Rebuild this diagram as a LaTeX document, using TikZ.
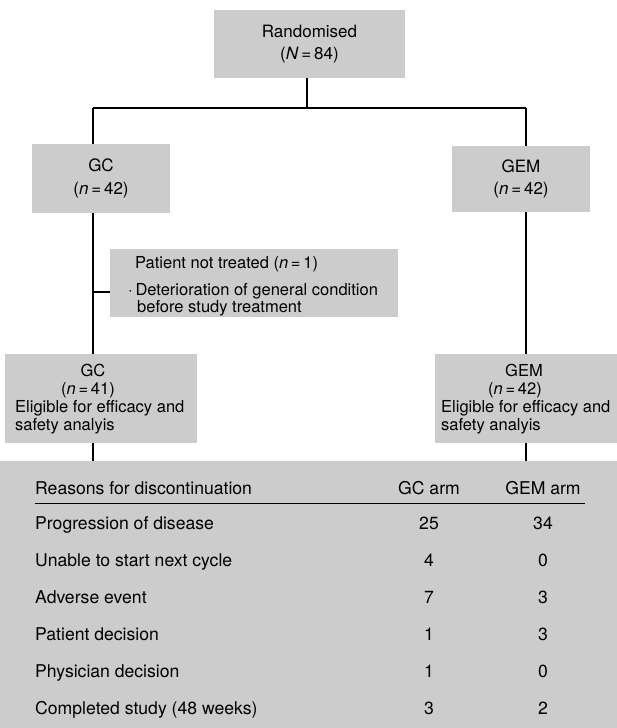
\documentclass[tikz,border=0pt]{standalone}
\usepackage{fontspec}
\setmainfont{TeX Gyre Heros}
\begin{document}
\begin{tikzpicture}[x=1pt,y=-1pt,
  boxfill/.style={rectangle, fill=black!20, draw=none, inner sep=0pt},
  boxtext/.style={font=\fontsize{17}{22.5}\selectfont, align=center},
  lbl/.style={font=\fontsize{16.5}{18}\selectfont, inner sep=0pt},
  tbl/.style={font=\fontsize{17.6}{21}\selectfont, inner sep=0pt},
  conn/.style={draw=black, line width=1.2pt}]
\useasboundingbox[fill=white] (0,0) rectangle (617,728);

% boxes
\node[boxfill, boxtext, minimum width=191pt, minimum height=68pt] (rand) at (309.5,44)
  {Randomised\\(\textit{N}\,=\,84)};
\node[boxfill, boxtext, minimum width=138pt, minimum height=69pt] (gc) at (101,178.5)
  {GC\\(\textit{n}\,=\,42)};
\node[boxfill, boxtext, minimum width=138pt, minimum height=66pt] (gem) at (521,179)
  {GEM\\(\textit{n}\,=\,42)};
\node[boxfill, minimum width=288pt, minimum height=68pt] (pnt) at (254,283) {};
\node[boxfill, minimum width=192pt, minimum height=89pt] (gca) at (101,398.5) {};
\node[boxfill, minimum width=182pt, minimum height=89pt] (gema) at (526,398.5) {};
\node[boxfill, minimum width=617pt, minimum height=267pt] (tab) at (308.5,594.5) {};

% patient not treated text
\node[lbl, anchor=base west] (p1) at (135,268) {Patient not treated (\textit{n}\,=\,1)};
\node[lbl, anchor=base west] (p2) at (128,295) {·\,Deterioration of general condition};
\node[lbl, anchor=base west] (p3) at (137,312) {before study treatment};

% GC analysed text
\node[lbl, anchor=base] (ga1) at (93,376) {GC};
\node[lbl, anchor=base] (ga2) at (88,394) {(\textit{n}\,=\,41)};
\node[lbl, anchor=base west] (ga3) at (15,412) {Eligible for efficacy and};
\node[lbl, anchor=base west] (ga4) at (15,430) {safety analyis};

% GEM analysed text
\node[lbl, anchor=base] (ea1) at (524,376) {GEM};
\node[lbl, anchor=base] (ea2) at (515,394) {(\textit{n}\,=\,42)};
\node[lbl, anchor=base west] (ea3) at (441,412) {Eligible for efficacy and};
\node[lbl, anchor=base west] (ea4) at (441,430) {safety analyis};

% connectors
\coordinate (jm) at (307,108);
\coordinate (jl) at (93,108);
\coordinate (jr) at (526,108);
\coordinate (br) at (93,292);
\draw[conn] (rand.south -| jm) -- (jm);
\draw[conn] (jl) -- (jr);
\draw[conn] (jl) -- (jl |- gc.north);
\draw[conn] (jr) -- (jr |- gem.north);
\draw[conn] (jl |- gc.south) -- (jl |- gca.north);
\draw[conn] (br) -- (br -| pnt.west);
\draw[conn] (jr |- gem.south) -- (jr |- gema.north);
\draw[conn] (jl |- gca.south) -- (jl |- tab.north);
\draw[conn] (jr |- gema.south) -- (jr |- tab.north);

% table
\node[tbl, anchor=base west] (h0) at (35,494) {Reasons for discontinuation};
\node[tbl, anchor=base] (h1) at (429,494) {GC arm};
\node[tbl, anchor=base] (h2) at (543,494) {GEM arm};
\draw[line width=1pt] (35,503) -- (585,503);

\node[tbl, anchor=base west] (r1) at (35,529) {Progression of disease};
\node[tbl, anchor=base west] (r2) at (35,566) {Unable to start next cycle};
\node[tbl, anchor=base west] (r3) at (35,603) {Adverse event};
\node[tbl, anchor=base west] (r4) at (35,640) {Patient decision};
\node[tbl, anchor=base west] (r5) at (35,677) {Physician decision};
\node[tbl, anchor=base west] (r6) at (35,714) {Completed study (48 weeks)};

\node[tbl, anchor=base] (a1) at (429,529) {25};
\node[tbl, anchor=base] (a2) at (429,566) {4};
\node[tbl, anchor=base] (a3) at (429,603) {7};
\node[tbl, anchor=base] (a4) at (429,640) {1};
\node[tbl, anchor=base] (a5) at (429,677) {1};
\node[tbl, anchor=base] (a6) at (429,714) {3};

\node[tbl, anchor=base] (b1) at (543,529) {34};
\node[tbl, anchor=base] (b2) at (543,566) {0};
\node[tbl, anchor=base] (b3) at (543,603) {3};
\node[tbl, anchor=base] (b4) at (543,640) {3};
\node[tbl, anchor=base] (b5) at (543,677) {0};
\node[tbl, anchor=base] (b6) at (543,714) {2};
\end{tikzpicture}
\end{document}
